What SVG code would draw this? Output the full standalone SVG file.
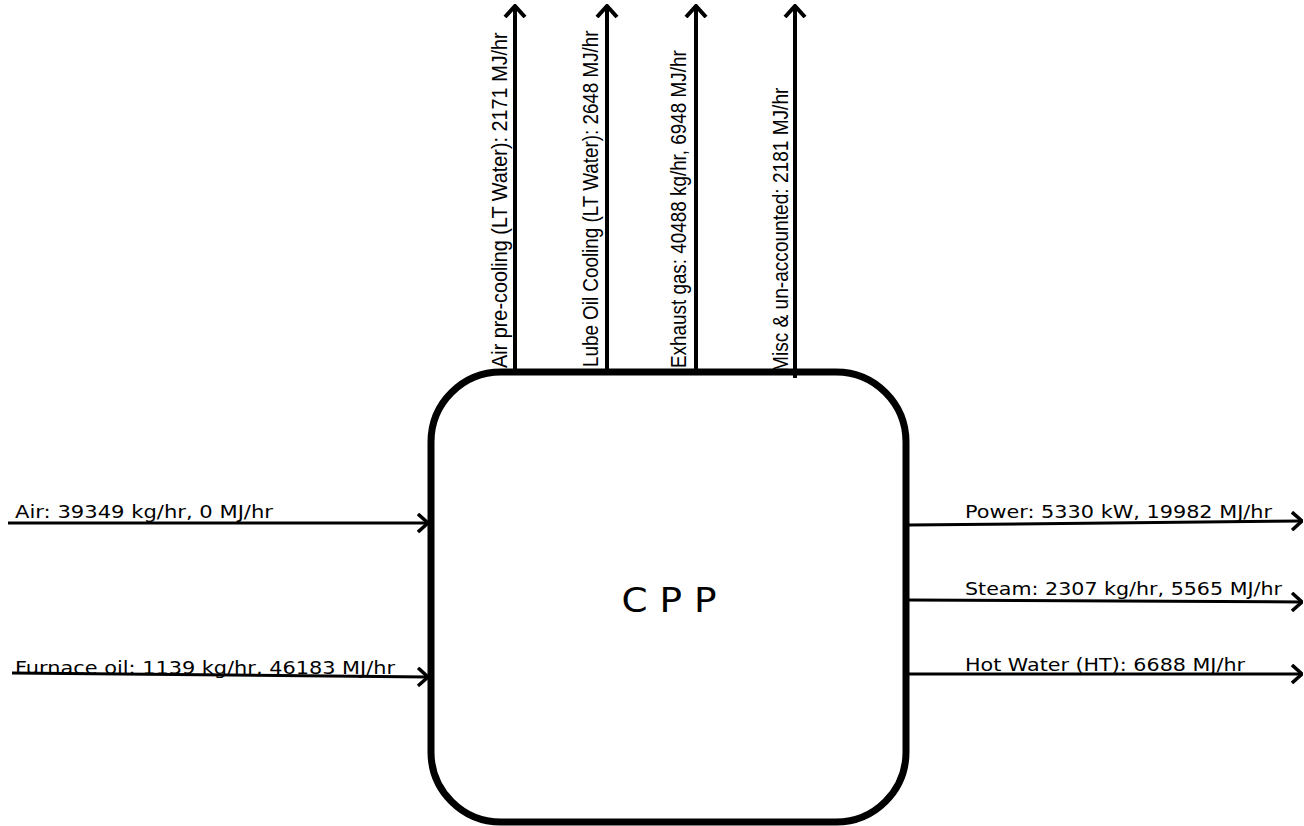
<svg xmlns="http://www.w3.org/2000/svg" width="1304" height="826" viewBox="0 0 1304 826">
<style>
.flow{stroke:#000;stroke-width:3;fill:none;marker-end:url(#chev)}
.up{stroke:#000;stroke-width:4;fill:none;marker-end:url(#chevup)}
.vlab{font-family:"Liberation Sans",Arial,sans-serif;font-size:22px;fill:#000}
.hlab{font-family:"DejaVu Sans",Verdana,sans-serif;font-size:18px;fill:#000}
.box{fill:#fff;stroke:#000;stroke-width:7}
</style>
<defs>
<marker id="chev" markerUnits="userSpaceOnUse" viewBox="0 0 12 20" refX="11" refY="10" markerWidth="12" markerHeight="20" orient="auto">
<path d="M1,1 L11,10 L1,19" fill="none" stroke="#000" stroke-width="3.5"/>
</marker>
<marker id="chevup" markerUnits="userSpaceOnUse" viewBox="0 0 14 24" refX="12" refY="12" markerWidth="14" markerHeight="24" orient="auto">
<path d="M1,2 L12,12 L1,22" fill="none" stroke="#000" stroke-width="4"/>
</marker>
</defs>
<rect width="1304" height="826" fill="#fff"/>
<g id="cpp">
<rect class="box" x="431" y="372" width="475" height="450" rx="70" ry="70"/>
<text x="669" y="612" text-anchor="middle" font-family="DejaVu Sans, Verdana, sans-serif" font-size="34" textLength="95" lengthAdjust="spacingAndGlyphs">C P P</text>
</g>
<g id="connectors">
<line class="up" x1="515" y1="372" x2="515" y2="6"/>
<line class="up" x1="607" y1="372" x2="607" y2="6"/>
<line class="up" x1="696" y1="372" x2="696" y2="6"/>
<line class="up" x1="795" y1="378" x2="795" y2="6"/>
<line class="flow" x1="8" y1="523" x2="428" y2="523"/>
<line class="flow" x1="12" y1="673" x2="428" y2="677"/>
<line class="flow" x1="909" y1="525" x2="1302" y2="521"/>
<line class="flow" x1="909" y1="600" x2="1302" y2="602"/>
<line class="flow" x1="909" y1="674" x2="1302" y2="674"/>
</g>
<g id="labels-out-top">
<text class="vlab" transform="translate(507 368) rotate(-90) scale(0.9 1)" textLength="373" lengthAdjust="spacingAndGlyphs">Air pre-cooling (LT Water): 2171 MJ/hr</text>
<text class="vlab" transform="translate(598 367) rotate(-90) scale(0.9 1)" textLength="374" lengthAdjust="spacingAndGlyphs">Lube Oil Cooling (LT Water): 2648 MJ/hr</text>
<text class="vlab" transform="translate(686 368) rotate(-90) scale(0.9 1)" textLength="353" lengthAdjust="spacingAndGlyphs">Exhaust gas: 40488 kg/hr, 6948 MJ/hr</text>
<text class="vlab" transform="translate(788 372) rotate(-90) scale(0.9 1)" textLength="316" lengthAdjust="spacingAndGlyphs">Misc &amp; un-accounted: 2181 MJ/hr</text>
</g>
<g id="labels-in">
<text class="hlab" x="15" y="518" textLength="258" lengthAdjust="spacingAndGlyphs">Air: 39349 kg/hr, 0 MJ/hr</text>
<text class="hlab" x="15" y="674" textLength="380" lengthAdjust="spacingAndGlyphs">Furnace oil: 1139 kg/hr, 46183 MJ/hr</text>
</g>
<g id="labels-out-right">
<text class="hlab" x="965" y="518" textLength="307" lengthAdjust="spacingAndGlyphs">Power: 5330 kW, 19982 MJ/hr</text>
<text class="hlab" x="965" y="595" textLength="317" lengthAdjust="spacingAndGlyphs">Steam: 2307 kg/hr, 5565 MJ/hr</text>
<text class="hlab" x="965" y="671" textLength="280" lengthAdjust="spacingAndGlyphs">Hot Water (HT): 6688 MJ/hr</text>
</g>
</svg>
